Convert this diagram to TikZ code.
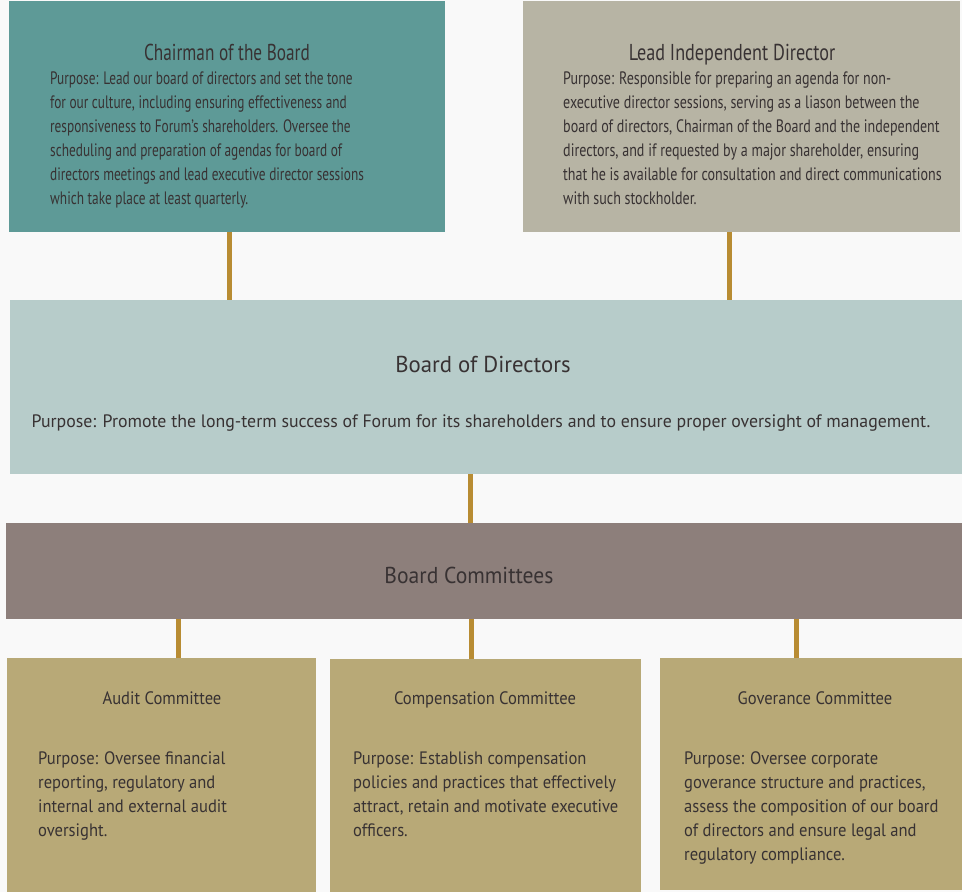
\documentclass[tikz,border=0pt]{standalone}
\usepackage{fontspec}
\setmainfont{PT Sans}
\newfontfamily\chairfont[FakeStretch=0.74]{PT Sans}
\newfontfamily\leadfont[FakeStretch=0.78]{PT Sans}
\newfontfamily\chairtitlefont[FakeStretch=0.75]{PT Sans}
\newfontfamily\leadtitlefont[FakeStretch=0.79]{PT Sans}
\newfontfamily\bodfont[FakeStretch=0.99]{PT Sans}
\newfontfamily\bcfont[FakeStretch=0.94]{PT Sans}
\newfontfamily\botfont[FakeStretch=0.92]{PT Sans}
\definecolor{bgc}{HTML}{F9F9F9}
\definecolor{teal1}{HTML}{5E9A97}
\definecolor{grey1}{HTML}{B7B4A4}
\definecolor{bodc}{HTML}{B7CCCA}
\definecolor{bcc}{HTML}{8D7F7B}
\definecolor{comc}{HTML}{B8A977}
\definecolor{connc}{HTML}{B88C33}
\definecolor{txtc}{HTML}{383233}
\newcommand\multiline[1]{\begin{tabular}[t]{@{}l@{}}#1\end{tabular}}
\begin{document}
\begin{tikzpicture}[x=1pt,y=-1pt,
  box/.style={draw=none, anchor=north west, inner sep=0pt},
  conn/.style={draw=connc, line width=5pt},
  ttl/.style={anchor=base, inner sep=0pt, text=txtc},
  body/.style={anchor=base west, inner sep=0pt, text=txtc}]
\useasboundingbox (0,0) rectangle (962,892);
\fill[bgc] (0,0) rectangle (962,892);
% boxes
\node[box, fill=teal1, minimum width=436pt, minimum height=231pt] (chair) at (9,1) {};
\node[box, fill=grey1, minimum width=437pt, minimum height=231pt] (lead) at (523,1) {};
\node[box, fill=bodc, minimum width=952pt, minimum height=174pt] (bod) at (10,300) {};
\node[box, fill=bcc, minimum width=956pt, minimum height=96pt] (bc) at (6,523) {};
\node[box, fill=comc, minimum width=309pt, minimum height=234pt] (audit) at (7,658) {};
\node[box, fill=comc, minimum width=311pt, minimum height=233pt] (comp) at (330,659) {};
\node[box, fill=comc, minimum width=302pt, minimum height=232pt] (gov) at (660,658) {};
% connectors
\draw[conn] ([xshift=2.5pt]chair.south) -- ([xshift=2.5pt]chair.south |- bod.north);
\draw[conn] ([xshift=-12pt]lead.south) -- ([xshift=-12pt]lead.south |- bod.north);
\draw[conn] ([xshift=-15.5pt]bod.south) -- ([xshift=-15.5pt]bod.south |- bc.north);
\draw[conn] ([xshift=16.5pt]audit.north) -- ([xshift=16.5pt]audit.north |- bc.south);
\draw[conn] ([xshift=-14.5pt]comp.north) -- ([xshift=-14.5pt]comp.north |- bc.south);
\draw[conn] ([xshift=-15pt]gov.north) -- ([xshift=-15pt]gov.north |- bc.south);
% texts
\node[ttl, font=\chairtitlefont\fontsize{23}{24}\selectfont] (chairT) at (227,60) {Chairman of the Board};
\node[body, font=\chairfont\fontsize{18}{24}\selectfont] (chairB) at (50,84) {\multiline{Purpose: Lead our board of directors and set the tone\\
for our culture, including ensuring effectiveness and\\
responsiveness to Forum’s shareholders. Oversee the\\
scheduling and preparation of agendas for board of\\
directors meetings and lead executive director sessions\\
which take place at least quarterly.}};
\node[ttl, font=\leadtitlefont\fontsize{23}{24}\selectfont] (leadT) at (732,60) {Lead Independent Director};
\node[body, font=\leadfont\fontsize{18}{24}\selectfont] (leadB) at (563,84) {\multiline{Purpose: Responsible for preparing an agenda for non-\\
executive director sessions, serving as a liason between the\\
board of directors, Chairman of the Board and the independent\\
directors, and if requested by a major shareholder, ensuring\\
that he is available for consultation and direct communications\\
with such stockholder.}};
\node[ttl, font=\bodfont\fontsize{23}{24}\selectfont] (bodT) at (483,372) {Board of Directors};
\node[ttl, font=\bodfont\fontsize{18}{24}\selectfont] (bodB) at (481,427) {Purpose: Promote the long-term success of Forum for its shareholders and to ensure proper oversight of management.};
\node[ttl, font=\bcfont\fontsize{23}{24}\selectfont] (bcT) at (469,583) {Board Committees};
\node[ttl, font=\botfont\fontsize{18}{24}\selectfont] (auditT) at (162,704) {Audit Committee};
\node[body, font=\botfont\fontsize{18}{24}\selectfont] (auditB) at (38,764) {\multiline{Purpose: Oversee financial\\
reporting, regulatory and\\
internal and external audit\\
oversight.}};
\node[ttl, font=\botfont\fontsize{18}{24}\selectfont] (compT) at (485,704) {Compensation Committee};
\node[body, font=\botfont\fontsize{18}{24}\selectfont] (compB) at (353,764) {\multiline{Purpose: Establish compensation\\
policies and practices that effectively\\
attract, retain and motivate executive\\
officers.}};
\node[ttl, font=\botfont\fontsize{18}{24}\selectfont] (govT) at (815,704) {Goverance Committee};
\node[body, font=\botfont\fontsize{18}{24}\selectfont] (govB) at (684,764) {\multiline{Purpose: Oversee corporate\\
goverance structure and practices,\\
assess the composition of our board\\
of directors and ensure legal and\\
regulatory compliance.}};
\end{tikzpicture}
\end{document}
